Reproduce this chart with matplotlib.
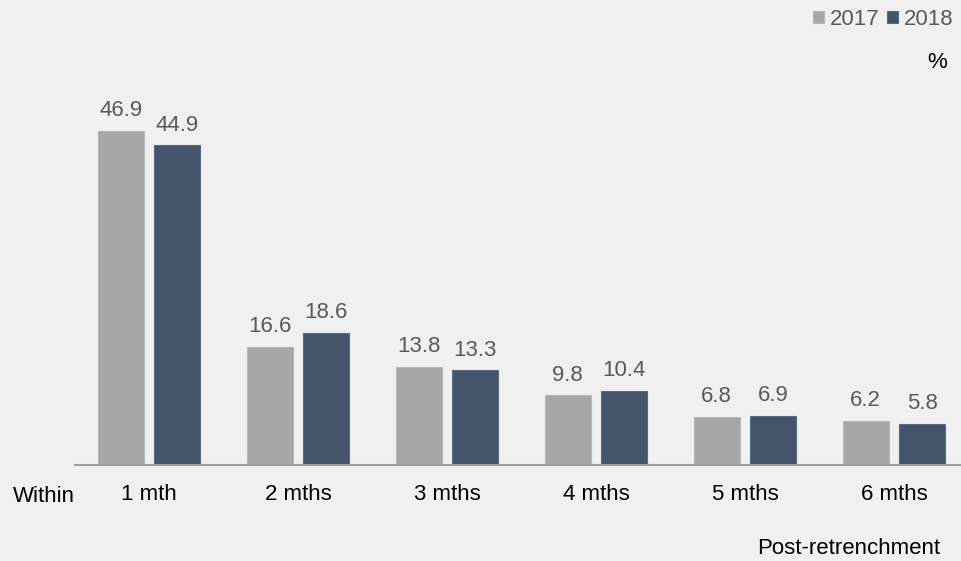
import matplotlib.pyplot as plt
import numpy as np

plt.rcParams['font.family'] = ['Liberation Sans', 'DejaVu Sans']

categories = ['1 mth', '2 mths', '3 mths', '4 mths', '5 mths', '6 mths']
vals_2017 = [46.9, 16.6, 13.8, 9.8, 6.8, 6.2]
vals_2018 = [44.9, 18.6, 13.3, 10.4, 6.9, 5.8]
years = ['2017', '2018']

bg = '#f0f0f0'
c17 = '#a6a6a6'
c18 = '#44546a'
fs = 16

W, H = 962, 561
fig = plt.figure(figsize=(W / 100, H / 100), dpi=100, facecolor=bg)
# axes spans from the baseline (y=465 px) up to the top, x from 75 px to the right edge
ax = fig.add_axes([75 / W, (H - 465) / H, 1 - 75 / W, 465 / H])
ax.set_facecolor(bg)

x = np.arange(len(categories))
bw = 0.31
off = 0.19
b1 = ax.bar(x - off, vals_2017, bw, color=c17, edgecolor='#b8b8b8', linewidth=0.8, label=years[0])
b2 = ax.bar(x + off, vals_2018, bw, color=c18, edgecolor='#5a6a80', linewidth=0.8, label=years[1])

for bars, vals in ((b1, vals_2017), (b2, vals_2018)):
    for r, v in zip(bars, vals):
        ax.annotate(f'{v:.1f}', (r.get_x() + r.get_width() / 2, v),
                    xytext=(0, 7), textcoords='offset points',
                    ha='center', va='bottom', fontsize=fs, color='#595959')

ax.set_xlim(-0.497, 5.456)
ax.set_ylim(0, 465 / 7.12)
for s in ['top', 'right', 'left']:
    ax.spines[s].set_visible(False)
ax.spines['bottom'].set_color('#a0a0a0')
ax.spines['bottom'].set_linewidth(1.5)
ax.set_yticks([])
ax.set_xticks(x)
ax.set_xticklabels(categories, fontsize=fs)
ax.tick_params(axis='x', length=0, pad=14)

fig.text(13 / W, 1 - 496 / H, 'Within', fontsize=fs, va='center', ha='left')
fig.text(940 / W, 1 - 548 / H, 'Post-retrenchment', fontsize=fs, va='center', ha='right')
fig.text(947 / W, 1 - 62 / H, '%', fontsize=fs, va='center', ha='right')

leg = ax.legend(loc='upper right', bbox_to_anchor=(1.0, 1.0), bbox_transform=fig.transFigure,
                ncol=2, frameon=False, fontsize=fs, handlelength=0.5, handleheight=0.5,
                handletextpad=0.25, columnspacing=0.35, borderaxespad=0.0)
for t in leg.get_texts():
    t.set_color('#595959')

fig.savefig('out.png', dpi=100, facecolor=bg)
